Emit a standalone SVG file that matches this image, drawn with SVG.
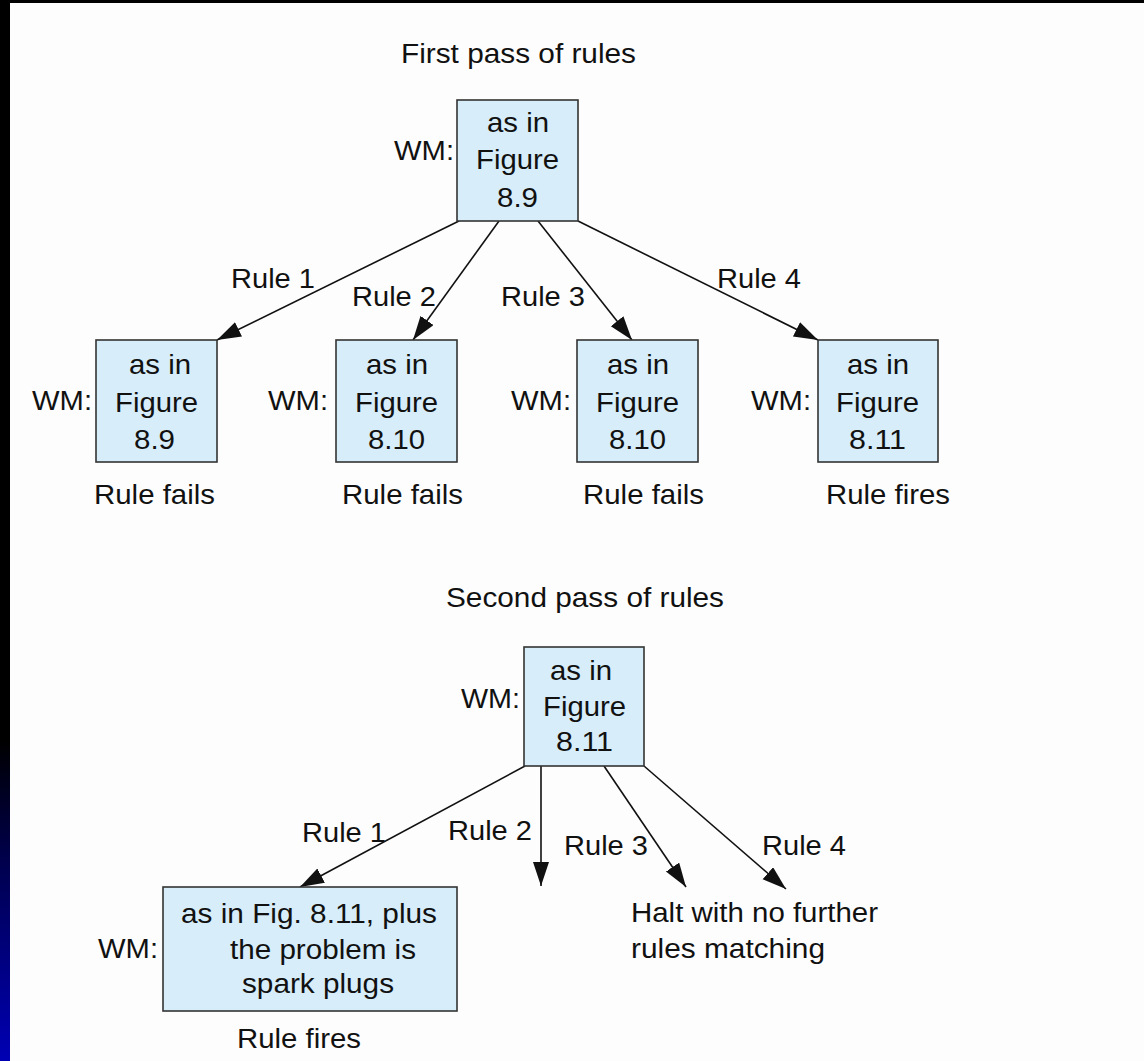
<svg xmlns="http://www.w3.org/2000/svg" width="1144" height="1061" viewBox="0 0 1144 1061">
  <style>
    .t { font-family: "Liberation Sans", Arial, sans-serif; font-size: 27.5px; fill: #111; }
    .box { fill: #d7edf9; stroke: #333; stroke-width: 1.6; }
    .edge { stroke: #111; stroke-width: 1.6; fill: none; marker-end: url(#arrow); }
  </style>
  <defs>
    <marker id="arrow" markerUnits="userSpaceOnUse" markerWidth="26" markerHeight="18" refX="24" refY="8" orient="auto">
      <path d="M0,0 L24,8 L0,16 z" fill="#111"/>
    </marker>
    <linearGradient id="edgeBlue" x1="0" y1="0" x2="0" y2="1">
      <stop offset="0" stop-color="#000000"/>
      <stop offset="0.35" stop-color="#000048"/>
      <stop offset="1" stop-color="#0000b4"/>
    </linearGradient>
  </defs>

  <!-- page -->
  <rect x="0" y="0" width="1144" height="1061" fill="#fdfdfd"/>
  <rect x="0" y="0" width="1144" height="3" fill="#000"/>
  <rect x="0" y="0" width="10" height="1061" fill="#000"/>
  <rect x="0" y="740" width="10" height="321" fill="url(#edgeBlue)"/>

  <!-- section titles -->
  <text class="t" x="401" y="63" textLength="235" lengthAdjust="spacingAndGlyphs">First pass of rules</text>
  <text class="t" x="446" y="607" textLength="278" lengthAdjust="spacingAndGlyphs">Second pass of rules</text>

  <!-- connectors -->
  <g id="connectors">
    <line class="edge" x1="459" y1="221" x2="217" y2="340"/>
    <line class="edge" x1="499" y1="221" x2="413" y2="340"/>
    <line class="edge" x1="538" y1="221" x2="632" y2="340"/>
    <line class="edge" x1="578" y1="221" x2="818" y2="340"/>
    <text class="t" x="231" y="288" textLength="84" lengthAdjust="spacingAndGlyphs">Rule 1</text>
    <text class="t" x="352" y="306" textLength="84" lengthAdjust="spacingAndGlyphs">Rule 2</text>
    <text class="t" x="501" y="306" textLength="84" lengthAdjust="spacingAndGlyphs">Rule 3</text>
    <text class="t" x="717" y="288" textLength="84" lengthAdjust="spacingAndGlyphs">Rule 4</text>

    <line class="edge" x1="525" y1="766" x2="300" y2="887"/>
    <line class="edge" x1="541" y1="766" x2="541" y2="886"/>
    <line class="edge" x1="604" y1="766" x2="686" y2="887"/>
    <line class="edge" x1="644" y1="766" x2="786" y2="889"/>
    <text class="t" x="302" y="842" textLength="84" lengthAdjust="spacingAndGlyphs">Rule 1</text>
    <text class="t" x="448" y="840" textLength="84" lengthAdjust="spacingAndGlyphs">Rule 2</text>
    <text class="t" x="564" y="855" textLength="84" lengthAdjust="spacingAndGlyphs">Rule 3</text>
    <text class="t" x="762" y="855" textLength="84" lengthAdjust="spacingAndGlyphs">Rule 4</text>
  </g>

  <!-- first pass: start state -->
  <g id="root1">
    <text class="t" x="394" y="160" textLength="60" lengthAdjust="spacingAndGlyphs">WM:</text>
    <rect class="box" x="457" y="100" width="121" height="121"/>
    <text class="t" x="487" y="132" textLength="62" lengthAdjust="spacingAndGlyphs">as in</text>
    <text class="t" x="476" y="169" textLength="83" lengthAdjust="spacingAndGlyphs">Figure</text>
    <text class="t" x="497" y="207" textLength="41" lengthAdjust="spacingAndGlyphs">8.9</text>
  </g>

  <g id="rule1-result">
    <text class="t" x="32" y="410" textLength="60" lengthAdjust="spacingAndGlyphs">WM:</text>
    <rect class="box" x="96" y="340" width="121" height="122"/>
    <text class="t" x="129" y="374" textLength="62" lengthAdjust="spacingAndGlyphs">as in</text>
    <text class="t" x="115" y="412" textLength="83" lengthAdjust="spacingAndGlyphs">Figure</text>
    <text class="t" x="134" y="449" textLength="41" lengthAdjust="spacingAndGlyphs">8.9</text>
    <text class="t" x="94" y="504" textLength="121" lengthAdjust="spacingAndGlyphs">Rule fails</text>
  </g>

  <g id="rule2-result">
    <text class="t" x="268" y="410" textLength="60" lengthAdjust="spacingAndGlyphs">WM:</text>
    <rect class="box" x="336" y="340" width="121" height="122"/>
    <text class="t" x="366" y="374" textLength="62" lengthAdjust="spacingAndGlyphs">as in</text>
    <text class="t" x="355" y="412" textLength="83" lengthAdjust="spacingAndGlyphs">Figure</text>
    <text class="t" x="368" y="449" textLength="57" lengthAdjust="spacingAndGlyphs">8.10</text>
    <text class="t" x="342" y="504" textLength="121" lengthAdjust="spacingAndGlyphs">Rule fails</text>
  </g>

  <g id="rule3-result">
    <text class="t" x="511" y="410" textLength="60" lengthAdjust="spacingAndGlyphs">WM:</text>
    <rect class="box" x="577" y="340" width="121" height="122"/>
    <text class="t" x="607" y="374" textLength="62" lengthAdjust="spacingAndGlyphs">as in</text>
    <text class="t" x="596" y="412" textLength="83" lengthAdjust="spacingAndGlyphs">Figure</text>
    <text class="t" x="609" y="449" textLength="57" lengthAdjust="spacingAndGlyphs">8.10</text>
    <text class="t" x="583" y="504" textLength="121" lengthAdjust="spacingAndGlyphs">Rule fails</text>
  </g>

  <g id="rule4-result">
    <text class="t" x="751" y="410" textLength="60" lengthAdjust="spacingAndGlyphs">WM:</text>
    <rect class="box" x="818" y="340" width="120" height="122"/>
    <text class="t" x="847" y="374" textLength="62" lengthAdjust="spacingAndGlyphs">as in</text>
    <text class="t" x="836" y="412" textLength="83" lengthAdjust="spacingAndGlyphs">Figure</text>
    <text class="t" x="849" y="449" textLength="57" lengthAdjust="spacingAndGlyphs">8.11</text>
    <text class="t" x="826" y="504" textLength="124" lengthAdjust="spacingAndGlyphs">Rule fires</text>
  </g>

  <!-- second pass -->
  <g id="root2">
    <text class="t" x="461" y="708" textLength="59" lengthAdjust="spacingAndGlyphs">WM:</text>
    <rect class="box" x="524" y="647" width="120" height="119"/>
    <text class="t" x="550" y="680" textLength="62" lengthAdjust="spacingAndGlyphs">as in</text>
    <text class="t" x="543" y="716" textLength="83" lengthAdjust="spacingAndGlyphs">Figure</text>
    <text class="t" x="556" y="751" textLength="57" lengthAdjust="spacingAndGlyphs">8.11</text>
  </g>

  <g id="second-rule1-result">
    <text class="t" x="98" y="958" textLength="60" lengthAdjust="spacingAndGlyphs">WM:</text>
    <rect class="box" x="163" y="887" width="294" height="124"/>
    <text class="t" x="181" y="923" textLength="256" lengthAdjust="spacingAndGlyphs">as in Fig. 8.11, plus</text>
    <text class="t" x="230" y="959" textLength="186" lengthAdjust="spacingAndGlyphs">the problem is</text>
    <text class="t" x="242" y="993" textLength="152" lengthAdjust="spacingAndGlyphs">spark plugs</text>
    <text class="t" x="237" y="1048" textLength="124" lengthAdjust="spacingAndGlyphs">Rule fires</text>
  </g>

  <g id="halt">
    <text class="t" x="631" y="922" textLength="247" lengthAdjust="spacingAndGlyphs">Halt with no further</text>
    <text class="t" x="631" y="958" textLength="194" lengthAdjust="spacingAndGlyphs">rules matching</text>
  </g>
</svg>
